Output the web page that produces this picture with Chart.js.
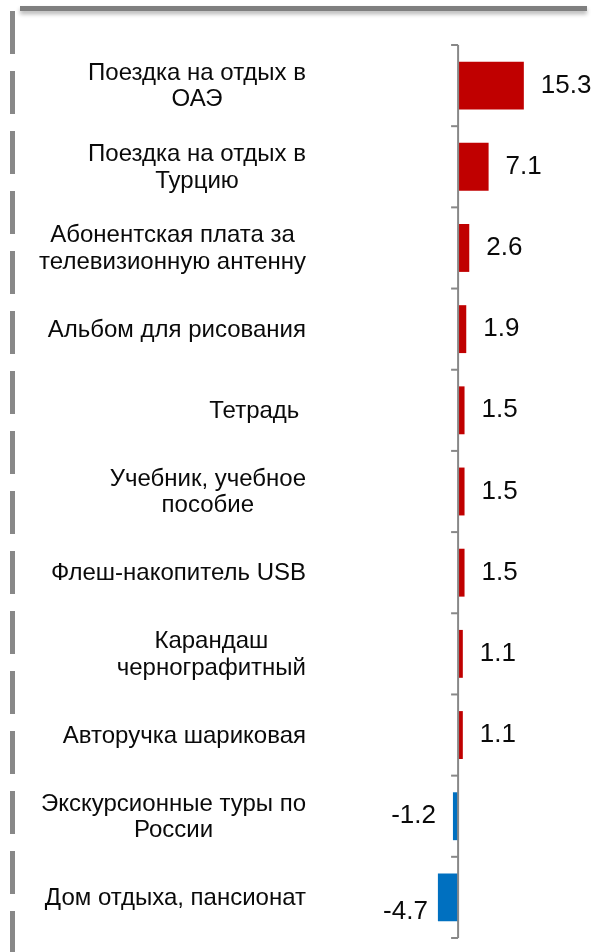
<!DOCTYPE html>
<html><head><meta charset="utf-8">
<script src="https://cdn.jsdelivr.net/npm/chart.js@4"></script>
<style>
html,body{margin:0;padding:0;background:#fff;}
#wrap{position:relative;width:593px;height:952px;overflow:hidden;background:#fff;}
#topbar{position:absolute;left:20px;top:6px;width:567px;height:5px;background:#7f7f7f;box-shadow:0 3px 4px rgba(0,0,0,0.3);}
#leftdash{position:absolute;left:10px;top:11px;width:5px;height:941px;background:repeating-linear-gradient(to bottom,#888 0,#888 43px,transparent 43px,transparent 60px);}
canvas{position:absolute;left:0;top:0;}
</style></head><body>
<div id="wrap"><canvas id="c" width="593" height="952"></canvas><div id="topbar"></div><div id="leftdash"></div></div>
<script>
const categories = [
  ["Поездка на отдых в", "ОАЭ"],
  ["Поездка на отдых в", "Турцию"],
  ["Абонентская плата за", "телевизионную антенну"],
  ["Альбом для рисования"],
  ["Тетрадь "],
  ["Учебник, учебное", "пособие"],
  ["Флеш-накопитель USB"],
  ["Карандаш", "чернографитный"],
  ["Авторучка шариковая"],
  ["Экскурсионные туры по", "России"],
  ["Дом отдыха, пансионат"]
];
const values = [15.3, 7.1, 2.6, 1.9, 1.5, 1.5, 1.5, 1.1, 1.1, -1.2, -4.7];
const valueLabels = ["15.3", "7.1", "2.6", "1.9", "1.5", "1.5", "1.5", "1.1", "1.1", "-1.2", "-4.7"];

const POS_COLOR = '#C00000', NEG_COLOR = '#0070C0';
const labelNudge = {10: {dx: 7, dy: 14}};

const decoPlugin = {
  id: 'deco',
  afterDatasetsDraw(chart) {
    const ctx = chart.ctx, xs = chart.scales.x, ys = chart.scales.y, area = chart.chartArea;
    ctx.save();
    const x0 = xs.getPixelForValue(0);
    ctx.strokeStyle = '#888'; ctx.lineWidth = 2;
    ctx.beginPath(); ctx.moveTo(x0, area.top); ctx.lineTo(x0, area.bottom); ctx.stroke();
    for (let i = 0; i <= categories.length; i++) {
      const yy = ys.getPixelForValue(i - 0.5);
      ctx.beginPath(); ctx.moveTo(x0 - 7, yy); ctx.lineTo(x0, yy); ctx.stroke();
    }
    // category labels: block right aligned, lines centered
    ctx.font = '24px "Liberation Sans", Arial, sans-serif';
    ctx.fillStyle = '#0a0a0a';
    ctx.textBaseline = 'middle';
    ctx.textAlign = 'center';
    const right = 306, lh = 26.5;
    categories.forEach((lines, i) => {
      const cy = ys.getPixelForValue(i) + 1;
      const w = Math.max(...lines.map(l => ctx.measureText(l).width));
      const cx = right - w / 2;
      lines.forEach((l, j) => {
        ctx.fillText(l, cx, cy + (j - (lines.length - 1) / 2) * lh);
      });
    });
    // value labels
    ctx.font = '26px "Liberation Sans", Arial, sans-serif';
    values.forEach((v, i) => {
      const cy = ys.getPixelForValue(i);
      const xe = xs.getPixelForValue(v);
      const n = labelNudge[i] || {dx: 0, dy: 0};
      if (v >= 0) { ctx.textAlign = 'left'; ctx.fillText(valueLabels[i], xe + 17 + n.dx, cy + n.dy); }
      else { ctx.textAlign = 'right'; ctx.fillText(valueLabels[i], xe - 17 + n.dx, cy + n.dy); }
    });
    ctx.restore();
  }
};

new Chart(document.getElementById('c'), {
  type: 'bar',
  data: {
    labels: categories,
    datasets: [{
      data: values,
      backgroundColor: values.map(v => v >= 0 ? POS_COLOR : NEG_COLOR),
      borderWidth: 0,
      categoryPercentage: 1,
      barPercentage: 0.59
    }]
  },
  options: {
    indexAxis: 'y',
    responsive: false,
    animation: false,
    layout: {padding: {left: 312, right: 6, top: 45, bottom: 14}},
    plugins: {legend: {display: false}, tooltip: {enabled: false}},
    scales: {
      x: {display: false, min: -34, max: 30},
      y: {display: false}
    }
  },
  plugins: [decoPlugin]
});
</script>
</body></html>
